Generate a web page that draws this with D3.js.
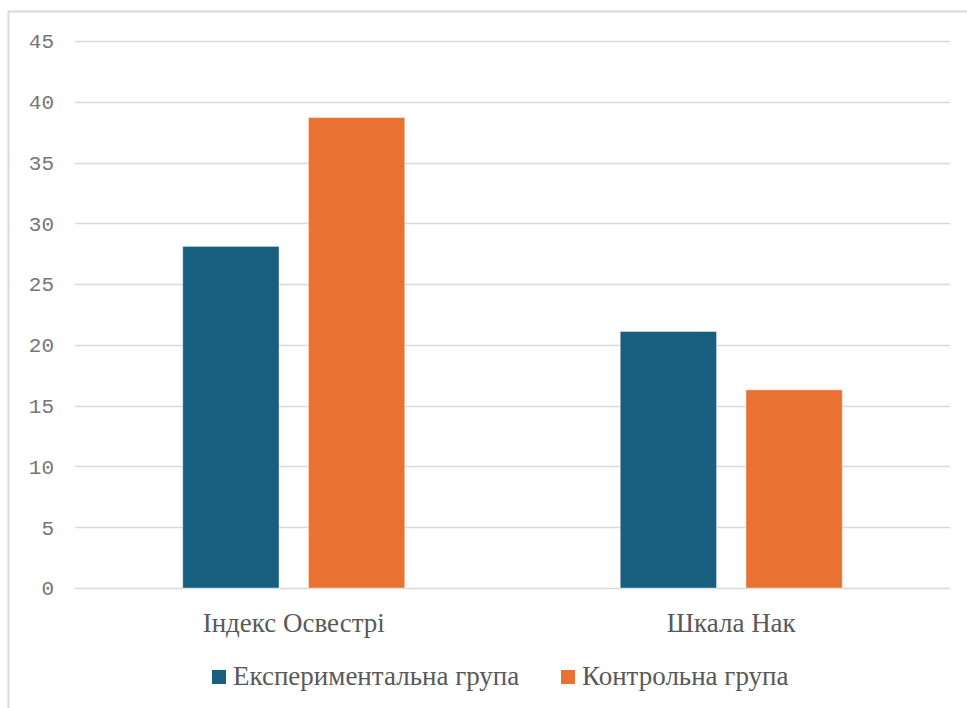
<!DOCTYPE html>
<html>
<head>
  <meta charset="utf-8">
  <title>Індекс Освестрі / Шкала Нак</title>
  <script src="https://cdn.jsdelivr.net/npm/d3@7"></script>
  <style>
    body { margin: 0; background: #fff; }
  </style>
</head>
<body>
  <script>
    // Дані
    const categories = ["Індекс Освестрі", "Шкала Нак"];
    const seriesNames = ["Експериментальна група", "Контрольна група"];
    const experimental = [28.1, 21.1];
    const control = [38.7, 16.3];
    const yTicks = [0, 5, 10, 15, 20, 25, 30, 35, 40, 45];
    const colors = ["#175E7F", "#E97132"];

    const serif = "'Liberation Serif'";
    const mono = "'Liberation Mono'";

    const w = 967, h = 708;
    const plotLeft = 75, plotRight = 950, plotTop = 41, plotBottom = 588;

    const svg = d3.select("body").append("svg")
      .attr("width", w)
      .attr("height", h);

    // рамка
    svg.append("rect")
      .attr("x", 8.5).attr("y", 11.5)
      .attr("width", w).attr("height", h)
      .attr("fill", "none")
      .attr("stroke", "#d9d9d9")
      .attr("stroke-width", 2);

    const y = d3.scaleLinear().domain([0, 45]).range([plotBottom, plotTop]);
    const x0 = d3.scaleBand().domain(categories).range([plotLeft, plotRight]);
    const x1 = d3.scaleBand().domain(seriesNames)
      .range([x0.bandwidth() / 2 - 111, x0.bandwidth() / 2 + 111])
      .paddingInner(26 / 111);

    // сітка
    svg.append("g").selectAll("line")
      .data(yTicks)
      .enter().append("line")
      .attr("x1", plotLeft).attr("x2", plotRight)
      .attr("y1", d => Math.round(y(d)) + 0.5)
      .attr("y2", d => Math.round(y(d)) + 0.5)
      .attr("stroke", "#d9d9d9")
      .attr("stroke-width", 1.5);

    // підписи осі Y
    svg.append("g").selectAll("text")
      .data(yTicks)
      .enter().append("text")
      .style("font-family", mono)
      .attr("x", 54)
      .attr("y", d => y(d))
      .attr("dy", "0.35em")
      .attr("text-anchor", "end")
      .attr("font-size", 21)
      .attr("fill", "#767676")
      .text(d => d);

    // стовпці
    const rows = categories.map((c, i) => ({ cat: c, vals: [experimental[i], control[i]] }));
    const groups = svg.append("g").selectAll("g")
      .data(rows)
      .enter().append("g")
      .attr("transform", d => "translate(" + x0(d.cat) + ",0)");

    groups.selectAll("rect")
      .data(d => d.vals.map((v, j) => ({ name: seriesNames[j], v: v, j: j })))
      .enter().append("rect")
      .attr("x", d => x1(d.name))
      .attr("y", d => y(d.v))
      .attr("width", x1.bandwidth())
      .attr("height", d => y(0) - y(d.v))
      .attr("fill", d => colors[d.j])
      .attr("stroke", "rgba(255,255,255,0.4)")
      .attr("stroke-width", 1);

    // підписи категорій
    svg.append("g").selectAll("text")
      .data(categories)
      .enter().append("text")
      .style("font-family", serif)
      .attr("x", d => x0(d) + x0.bandwidth() / 2)
      .attr("y", 632)
      .attr("text-anchor", "middle")
      .attr("font-size", 27)
      .attr("fill", "#595959")
      .text(d => d);

    // легенда
    const legendX = [212, 561];
    const legend = svg.append("g").selectAll("g")
      .data(seriesNames)
      .enter().append("g")
      .attr("transform", (d, i) => "translate(" + legendX[i] + ",670)");
    legend.append("rect")
      .attr("width", 14).attr("height", 14)
      .attr("fill", (d, i) => colors[i]);
    legend.append("text")
      .style("font-family", serif)
      .attr("x", 21)
      .attr("y", 15)
      .attr("font-size", 27)
      .attr("fill", "#595959")
      .text(d => d);
  </script>
</body>
</html>
